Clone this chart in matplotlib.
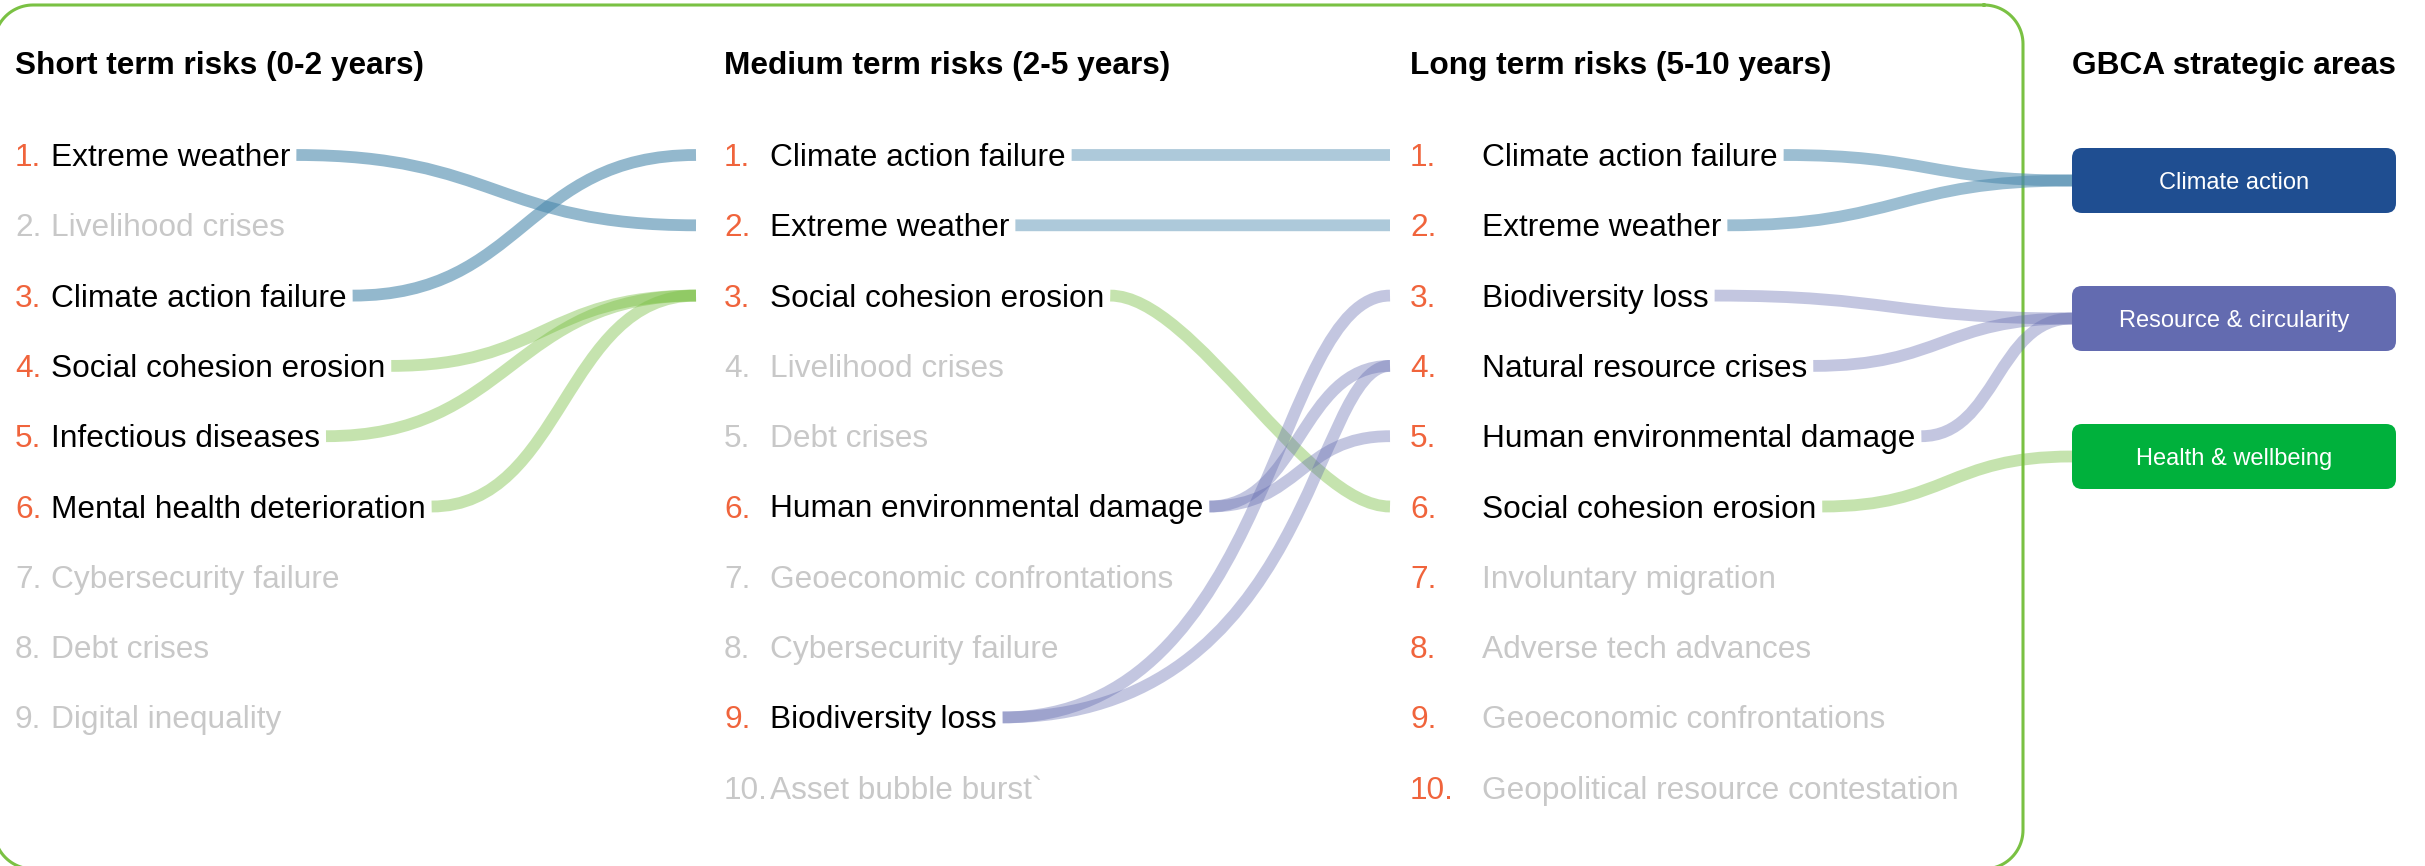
import matplotlib
matplotlib.use("Agg")
import numpy as np
import matplotlib.pyplot as plt
from matplotlib.path import Path
from matplotlib.patches import PathPatch, FancyBboxPatch

headers = ["Short term risks (0-2 years)", "Medium term risks (2-5 years)",
           "Long term risks (5-10 years)", "GBCA strategic areas"]

short_risks = ["Extreme weather", "Livelihood crises", "Climate action failure",
               "Social cohesion erosion", "Infectious diseases",
               "Mental health deterioration", "Cybersecurity failure",
               "Debt crises", "Digital inequality"]
short_active = [1, 3, 4, 5, 6]

medium_risks = ["Climate action failure", "Extreme weather", "Social cohesion erosion",
                "Livelihood crises", "Debt crises", "Human environmental damage",
                "Geoeconomic confrontations", "Cybersecurity failure",
                "Biodiversity loss", "Asset bubble burst`"]
medium_active = [1, 2, 3, 6, 9]

long_risks = ["Climate action failure", "Extreme weather", "Biodiversity loss",
              "Natural resource crises", "Human environmental damage",
              "Social cohesion erosion", "Involuntary migration",
              "Adverse tech advances", "Geoeconomic confrontations",
              "Geopolitical resource contestation"]
long_active = [1, 2, 3, 4, 5, 6]

areas = ["Climate action", "Resource & circularity", "Health & wellbeing"]

# (from rank, to rank, area index)
short_to_medium = [(1, 2, 0), (3, 1, 0), (4, 3, 2), (5, 3, 2), (6, 3, 2)]
medium_to_long = [(1, 1, 0), (2, 2, 0), (3, 6, 2), (6, 4, 1), (6, 5, 1), (9, 3, 1), (9, 4, 1)]
# (long rank, area index)
long_to_area = [(1, 0), (2, 0), (3, 1), (4, 1), (5, 1), (6, 2)]

# styling / layout
W, H = 2425, 866
ORANGE = "#F0643C"
GREY = "#C8C8C8"
area_colors = ["#1F4E91", "#636BB0", "#00B13C"]
flow_colors = ["#4B89AD", "#636BB0", "#7AC043"]
flow_alpha = {0: [0.6, 0.38, 0.43], 1: [0.45, 0.38, 0.43], 2: [0.55, 0.38, 0.43]}
# bezier handle lengths (fraction of run) for the hand drawn curves
curve_shape = {(1, 3, 6): (0.3, 0.3), (1, 9, 3): (0.7, 0.3), (1, 9, 4): (0.8, 0.2)}
FS = 22.8
header_x = [15, 724, 1410, 2072]
num_x = [15, 724, 1410]
label_x = [51, 770, 1482]
flow_end_x = [696, 1390, 2072]
row0, row_step = 155, 70.3
box_x, box_w, box_h = 2072, 324, 65
box_y0, box_step = 180.5, 138


def row_y(rank):
    return row0 + (rank - 1) * row_step


def box_y(i):
    return box_y0 + i * box_step


def flow(ax, x0, y0, x1, y1, color, alpha, shape=(0.5, 0.5)):
    dx = x1 - x0
    path = Path([(x0, y0), (x0 + shape[0] * dx, y0), (x1 - shape[1] * dx, y1), (x1, y1)],
                [Path.MOVETO, Path.CURVE4, Path.CURVE4, Path.CURVE4])
    ax.add_patch(PathPatch(path, fill=False, edgecolor=color, alpha=alpha,
                           lw=8.5, capstyle="butt", zorder=1))


def rounded_rect(x0, y0, x1, y1, r):
    xs, ys = [], []
    for cx, cy, a0 in [(x1 - r, y0 + r, -90), (x1 - r, y1 - r, 0),
                       (x0 + r, y1 - r, 90), (x0 + r, y0 + r, 180)]:
        ang = np.radians(np.linspace(a0, a0 + 90, 25))
        xs += list(cx + r * np.cos(ang))
        ys += list(cy + r * np.sin(ang))
    return xs + xs[:1], ys + ys[:1]


plt.rcParams["font.family"] = ["Liberation Sans", "DejaVu Sans"]
fig = plt.figure(figsize=(W / 100, H / 100), dpi=100)
ax = fig.add_axes([0, 0, 1, 1])
ax.set_xlim(0, W)
ax.set_ylim(H, 0)
ax.axis("off")

# green frame round the three risk columns
fx, fy = rounded_rect(-6, 5, 2023, 869, 39)
ax.plot(fx, fy, color="#7AC143", lw=2.2, zorder=0)

for x, h in zip(header_x, headers):
    ax.text(x, 74, h, fontsize=FS, fontweight="bold", color="black", va="baseline")

columns = [(short_risks, short_active), (medium_risks, medium_active), (long_risks, long_active)]
labels = []
for c, (risks, active) in enumerate(columns):
    col = {}
    for i, name in enumerate(risks, start=1):
        on = i in active
        y = row_y(i) + 11
        num_color = ORANGE if (on or c == 2) else GREY
        ax.text(num_x[c], y, f"{i}.", fontsize=FS, color=num_color, va="baseline")
        col[i] = ax.text(label_x[c], y, name, fontsize=FS,
                         color="black" if on else GREY, va="baseline")
    labels.append(col)

fig.canvas.draw()
renderer = fig.canvas.get_renderer()
inv = ax.transData.inverted()


def text_end(t):
    bb = t.get_window_extent(renderer)
    return inv.transform((bb.x1, bb.y0))[0] + 6


for a, b, k in short_to_medium:
    flow(ax, text_end(labels[0][a]), row_y(a), flow_end_x[0], row_y(b),
         flow_colors[k], flow_alpha[0][k], curve_shape.get((0, a, b), (0.5, 0.5)))

for a, b, k in medium_to_long:
    flow(ax, text_end(labels[1][a]), row_y(a), flow_end_x[1], row_y(b),
         flow_colors[k], flow_alpha[1][k], curve_shape.get((1, a, b), (0.5, 0.5)))

for a, k in long_to_area:
    flow(ax, text_end(labels[2][a]), row_y(a), flow_end_x[2], box_y(k),
         flow_colors[k], flow_alpha[2][k])

for i, (name, col) in enumerate(zip(areas, area_colors)):
    yc = box_y(i)
    ax.add_patch(FancyBboxPatch((box_x, yc - box_h / 2), box_w, box_h,
                                boxstyle="round,pad=0,rounding_size=10",
                                facecolor=col, edgecolor="none", zorder=3))
    ax.text(box_x + box_w / 2, yc + 8.5, name, fontsize=17, color="white",
            ha="center", va="baseline", zorder=4)

fig.savefig("out.png", dpi=100)
